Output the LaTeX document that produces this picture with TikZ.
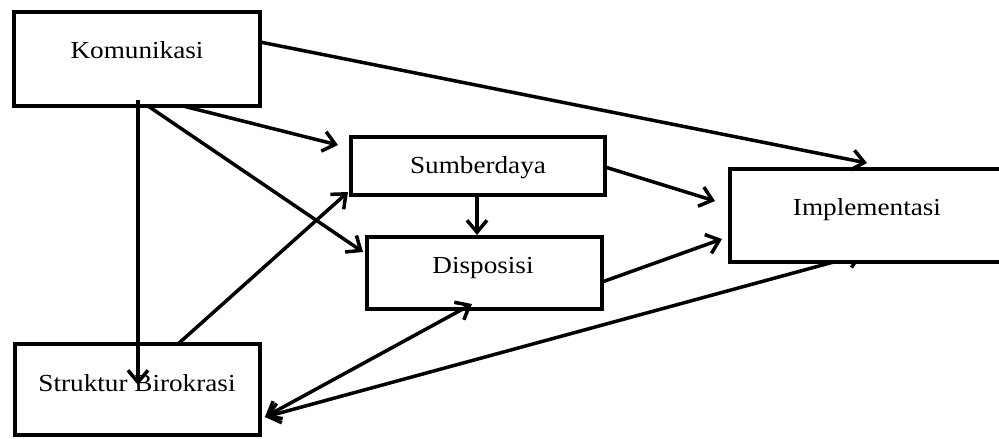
\documentclass[tikz,border=0pt]{standalone}
\usepackage{fontspec}
\setmainfont[FakeStretch=1.11]{Liberation Serif}
\usetikzlibrary{arrows.meta,calc}
\pgfdeclarelayer{background}
\pgfsetlayers{background,main}
\begin{document}
\begin{tikzpicture}[x=1pt,y=-1pt,
  box/.style={draw, line width=4.5pt, fill=white, inner sep=0pt, outer sep=0pt},
  lbl/.style={anchor=base, inner sep=0pt, outer sep=0pt, font=\fontsize{24.5}{29}\selectfont},
  tipb/.tip={Straight Barb[length=12pt,width=20pt]},
  conn/.style={line width=3.5pt, -tipb},
  conn2/.style={line width=3.5pt, tipb-tipb}]
\useasboundingbox (0,0) rectangle (999,439);

% boxes
\node[box, minimum width=246pt, minimum height=94pt] (kom) at (137,59) {};
\node[box, minimum width=254pt, minimum height=58pt] (sum) at (478,166) {};
\node[box, minimum width=235pt, minimum height=72pt] (dis) at (484.5,273) {};
\node[box, minimum width=280pt, minimum height=93pt] (imp) at (870,215.5) {};
\node[box, minimum width=245pt, minimum height=91pt] (str) at (137.5,389.5) {};

% labels
\node[lbl] (komL) at (137,58) {Komunikasi};
\node[lbl] (sumL) at (478,173) {Sumberdaya};
\node[lbl] (disL) at (483,273) {Disposisi};
\node[lbl] (impL) at (867,215) {Implementasi};
\node[lbl] (strL) at (137,391) {Struktur Birokrasi};

% connectors
\draw[conn] ($(kom.north east)+(0,30)$) -- ($(imp.north west)+(137,-6)$);
\draw[conn] ($(kom.south west)+(169,0)$) -- ($(sum.west)+(-13,-21)$);
\draw[conn] ($(kom.south west)+(134,0)$) -- ($(dis.north west)+(-4,15)$);
\draw[conn] ($(kom.south west)+(124,-6)$) -- ($(str.north west)+(123,41)$);
\draw[conn] ($(str.north west)+(163,0)$) -- ($(sum.south west)+(-3,-3)$);
\draw[conn] ($(sum.south)+(-1,0)$) -- ($(dis.north west)+(110,-2)$);
\draw[conn] ($(sum.east)+(0,1)$) -- ($(imp.west)+(-15,-14.5)$);
\draw[conn] ($(dis.east)+(0,9)$) -- ($(imp.west)+(-8,23.5)$);
\draw[conn2] ($(str.east)+(5,27.5)$) -- ($(dis.south west)+(105,-5)$);
\begin{pgfonlayer}{background}
\draw[conn2] ($(str.east)+(5,27.5)$) -- ($(imp.south west)+(133,-8)$);
\end{pgfonlayer}
\end{tikzpicture}
\end{document}
